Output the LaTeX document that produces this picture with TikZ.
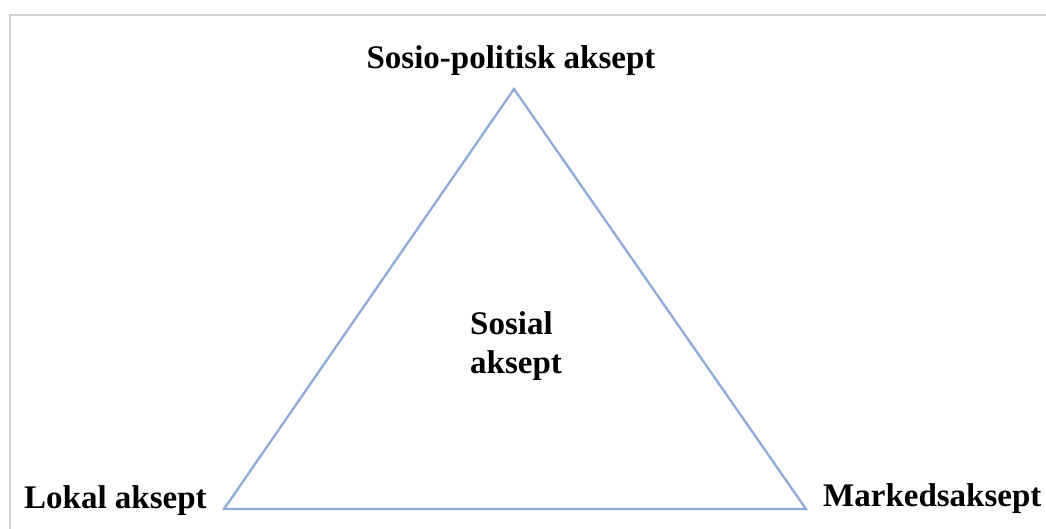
\documentclass[tikz,border=0pt]{standalone}
\usepackage{fontspec}
\setmainfont{Liberation Serif}
\begin{document}
\begin{tikzpicture}[x=1pt,y=-1pt,
  lbl/.style={font=\bfseries\fontsize{33}{39}\selectfont, inner sep=0pt, text=black},
  tri/.style={draw=triblue, line width=2.3pt, line join=miter},
  frame/.style={draw=framegray, line width=2pt}]
\definecolor{triblue}{HTML}{8FAADC}
\definecolor{framegray}{HTML}{D0D0D0}
\useasboundingbox (0,0) rectangle (1046,529);
\fill[white] (0,0) rectangle (1046,529);
\coordinate (fa) at (10,529);
\coordinate (fb) at (10,15);
\coordinate (fc) at (1046,15);
\draw[frame] (fa) -- (fb) -- (fc);
\coordinate (top) at (514,89);
\coordinate (bl) at (224,509);
\coordinate (br) at (806,509);
\draw[tri] (top) -- (bl) -- (br) -- cycle;
\node[lbl, anchor=base] (sp) at (511,69) {Sosio-politisk aksept};
\node[lbl, anchor=base west] (la) at (24,508) {Lokal aksept};
\node[lbl, anchor=base west] (ma) at (823,506) {Markedsaksept};
\node[lbl, anchor=north west, align=left] (sa) at (470,311) {Sosial\\aksept};
\end{tikzpicture}
\end{document}
